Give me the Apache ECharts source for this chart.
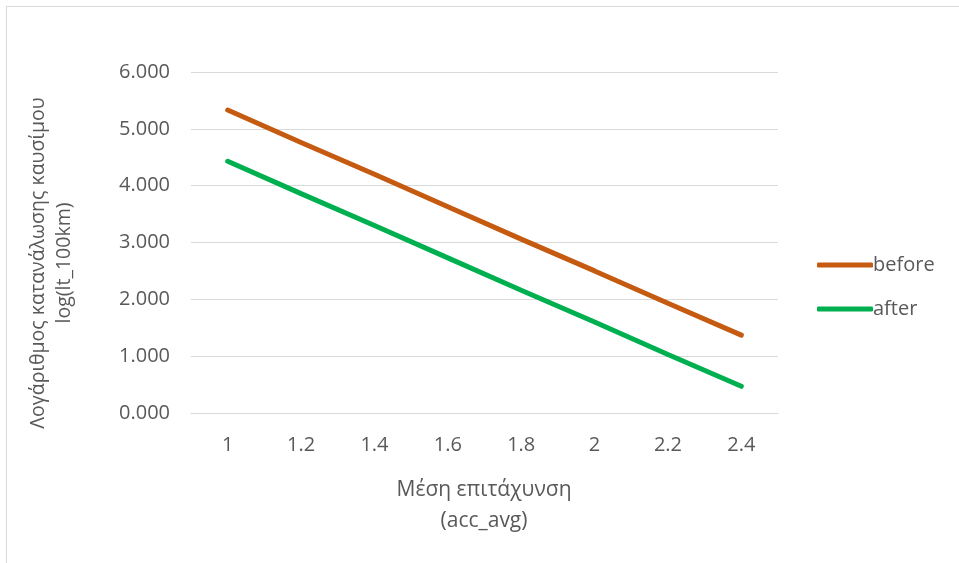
<!DOCTYPE html>
<html><head><meta charset="utf-8">
<script src="https://cdn.jsdelivr.net/npm/echarts@6/dist/echarts.min.js"></script>
<style>
html,body{margin:0;padding:0;background:#fff;}
#c{width:959px;height:563px;position:relative;}
#b{position:absolute;left:6px;top:6px;width:980px;height:580px;border:1px solid #D9D9D9;box-sizing:border-box;pointer-events:none;}
</style></head>
<body><div id="c"></div><div id="b"></div>
<script>
const categories = ['1','1.2','1.4','1.6','1.8','2','2.2','2.4'];
const beforeValues = [5.33, 4.76, 4.20, 3.63, 3.06, 2.50, 1.93, 1.37];
const afterValues = [4.43, 3.86, 3.30, 2.73, 2.16, 1.60, 1.03, 0.47];
const yTitle1 = 'Λογάριθμος κατανάλωσης καυσίμου';
const yTitle2 = 'log(lt_100km)';
const xTitle1 = 'Μέση επιτάχυνση';
const xTitle2 = '(acc_avg)';
const FONT = '"Open Sans", sans-serif';
const chart = echarts.init(document.getElementById('c'));
chart.setOption({
  animation:false,
  grid:{left:191,right:181,top:72,bottom:150},
  xAxis:{type:'category',data:categories,boundaryGap:true,
    axisLine:{show:true,lineStyle:{color:'#D9D9D9',width:1}},
    axisTick:{show:false},
    axisLabel:{color:'#595959',fontSize:20,fontFamily:FONT,margin:22}},
  yAxis:{type:'value',min:0,max:6,interval:1,
    axisLine:{show:false},axisTick:{show:false},
    splitLine:{lineStyle:{color:'#D9D9D9',width:1}},
    axisLabel:{color:'#595959',fontSize:20,fontFamily:FONT,margin:21,formatter:v=>v.toFixed(3)}},
  legend:{orient:'vertical',left:812,top:250,itemWidth:56,itemHeight:5,itemGap:24,icon:'roundRect',
    textStyle:{color:'#595959',fontSize:20,fontFamily:FONT,padding:[0,0,0,-5]},
    data:['before','after']},
  series:[
    {name:'before',type:'line',data:beforeValues,symbol:'none',color:'#C55A11',
      lineStyle:{width:5,cap:'round',color:'#C55A11'}},
    {name:'after',type:'line',data:afterValues,symbol:'none',color:'#00B050',
      lineStyle:{width:5,cap:'round',color:'#00B050'}}
  ],
  graphic:[
    {type:'text',x:38,y:263,rotation:Math.PI/2,style:{text:yTitle1,fill:'#595959',font:'19.5px '+FONT,align:'center',verticalAlign:'middle'}},
    {type:'text',x:64,y:263,rotation:Math.PI/2,style:{text:yTitle2,fill:'#595959',font:'19.5px '+FONT,align:'center',verticalAlign:'middle'}},
    {type:'text',x:484,y:490,style:{text:xTitle1,fill:'#595959',font:'21px '+FONT,align:'center',verticalAlign:'middle'}},
    {type:'text',x:484,y:521,style:{text:xTitle2,fill:'#595959',font:'21px '+FONT,align:'center',verticalAlign:'middle'}}
  ]
});
</script></body></html>
